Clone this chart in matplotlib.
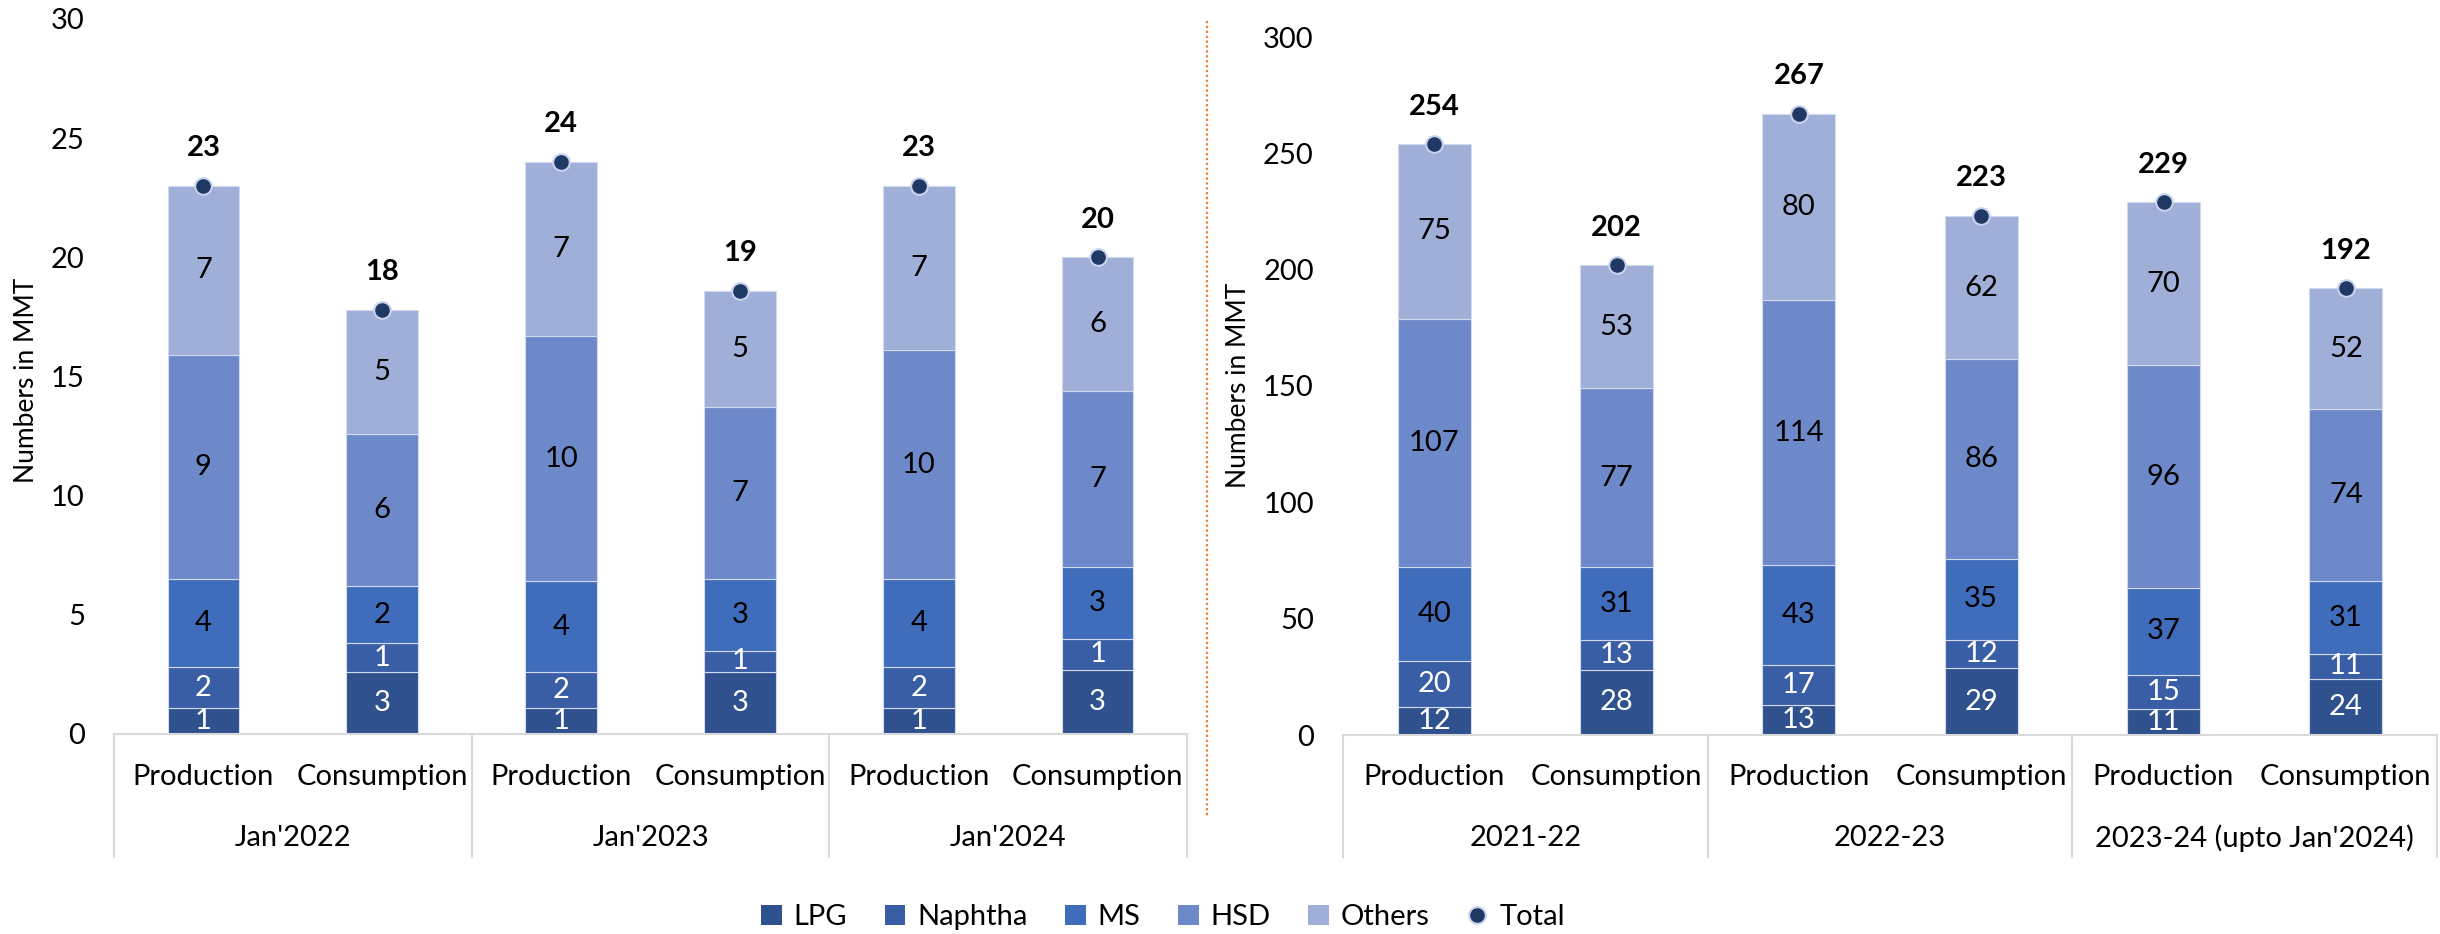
import matplotlib.pyplot as plt
from matplotlib.lines import Line2D
from matplotlib.patches import Patch
from matplotlib.transforms import blended_transform_factory

plt.rcParams["font.family"] = ["Lato", "DejaVu Sans"]

# Monthly figures (MMT)
month_groups = ["Jan'2022", "Jan'2023", "Jan'2024"]
sub_labels = ["Production", "Consumption"]
lpg_month = [1.1, 2.6, 1.1, 2.6, 1.1, 2.7]
naphtha_month = [1.7, 1.2, 1.5, 0.9, 1.7, 1.3]
ms_month = [3.7, 2.4, 3.8, 3.0, 3.7, 3.0]
hsd_month = [9.4, 6.4, 10.3, 7.2, 9.6, 7.4]
others_month = [7.1, 5.2, 7.3, 4.9, 6.9, 5.6]

# Yearly figures (MMT)
year_groups = ["2021-22", "2022-23", "2023-24 (upto Jan'2024)"]
lpg_year = [12, 28, 13, 28.6, 11, 24]
naphtha_year = [20, 13, 17, 12.3, 15, 11]
ms_year = [40, 31, 43, 34.8, 37, 31]
hsd_year = [107, 77, 114, 85.7, 96, 74]
others_year = [75, 53, 80, 61.7, 70, 52]

series_names = ["LPG", "Naphtha", "MS", "HSD", "Others"]
colors = ["#2F528F", "#3A5EA6", "#3F6CBB", "#6D89C9", "#9FAFD8"]
label_colors = ["white", "white", "black", "black", "black"]
total_color = "#1F3864"
FS = 21


def draw_panel(ax, series, groups, ymax, ystep, fig):
    x = list(range(len(series[0])))
    bottom = [0] * len(x)
    for vals, col, lcol in zip(series, colors, label_colors):
        ax.bar(x, vals, width=0.4, bottom=bottom, color=col,
               edgecolor="#D3DAEE", linewidth=0.8, zorder=2)
        for xi, v, b in zip(x, vals, bottom):
            ax.text(xi, b + v / 2, f"{v:.0f}", ha="center", va="center",
                    fontsize=FS, color=lcol, clip_on=True, zorder=3)
        bottom = [b + v for b, v in zip(bottom, vals)]

    # totals
    ax.plot(x, bottom, linestyle="none", marker="o", markersize=12,
            markerfacecolor=total_color, markeredgecolor="#C9D3EC",
            markeredgewidth=1.5, zorder=4, clip_on=False)
    for xi, t in zip(x, bottom):
        ax.annotate(f"{t:.0f}", (xi, t), xytext=(0, 27),
                    textcoords="offset points", ha="center", va="center",
                    fontsize=FS, fontweight="bold", color="black")

    ax.set_xlim(-0.5, len(x) - 0.5)
    ax.set_ylim(0, ymax)
    ax.set_yticks(range(0, ymax + 1, ystep))
    ax.tick_params(axis="y", length=0, pad=21, labelsize=FS)
    ax.set_xticks([])
    for s in ["top", "right", "left"]:
        ax.spines[s].set_visible(False)
    ax.spines["bottom"].set_color("#D9D9D9")
    ax.spines["bottom"].set_linewidth(1.5)

    # multi-level category axis
    tr = blended_transform_factory(ax.transData, fig.transFigure)
    y_axis = ax.get_position().y0
    for k in range(len(groups) + 1):
        xs = -0.5 + 2 * k
        ax.add_line(Line2D([xs, xs], [y_axis, 0.0824], transform=tr,
                           color="#D9D9D9", linewidth=1.5, clip_on=False))
    for xi in x:
        ax.text(xi, 0.168, sub_labels[xi % 2], transform=tr, ha="center",
                va="center", fontsize=FS)
    for k, g in enumerate(groups):
        ax.text(2 * k + 0.5, 0.1028, g, transform=tr, ha="center",
                va="center", fontsize=FS)


fig = plt.figure(figsize=(24.4, 9.34), dpi=100)
ax1 = fig.add_axes([114 / 2440, 200 / 934, 1073 / 2440, 715 / 934])
ax2 = fig.add_axes([1343 / 2440, 199 / 934, 1094 / 2440, 698 / 934])

draw_panel(ax1, [lpg_month, naphtha_month, ms_month, hsd_month, others_month],
           month_groups, 30, 5, fig)
draw_panel(ax2, [lpg_year, naphtha_year, ms_year, hsd_year, others_year],
           year_groups, 300, 50, fig)

fig.text(27 / 2440, 1 - 380 / 934, "Numbers in MMT", rotation=90,
         ha="center", va="center", fontsize=19)
fig.text(1239 / 2440, 1 - 385 / 934, "Numbers in MMT", rotation=90,
         ha="center", va="center", fontsize=19)

# dotted divider between the two panels
fig.add_artist(Line2D([1207 / 2440, 1207 / 2440], [1 - 21 / 934, 1 - 817 / 934],
                      color="#ED7D31", linestyle=(0, (1, 1.2)), linewidth=1.6))

handles = [Patch(facecolor=c, edgecolor="none") for c in colors]
handles.append(Line2D([], [], linestyle="none", marker="o", markersize=12,
                      markerfacecolor=total_color, markeredgecolor="#C9D3EC",
                      markeredgewidth=1.5))
fig.legend(handles, series_names + ["Total"], loc="center", ncol=6,
           bbox_to_anchor=(1163 / 2440, 1 - 917 / 934), frameon=False,
           fontsize=FS, handlelength=0.7, handleheight=0.7,
           handletextpad=0.4, columnspacing=1.3)

fig.savefig("out.png", dpi=100)
plt.close(fig)
